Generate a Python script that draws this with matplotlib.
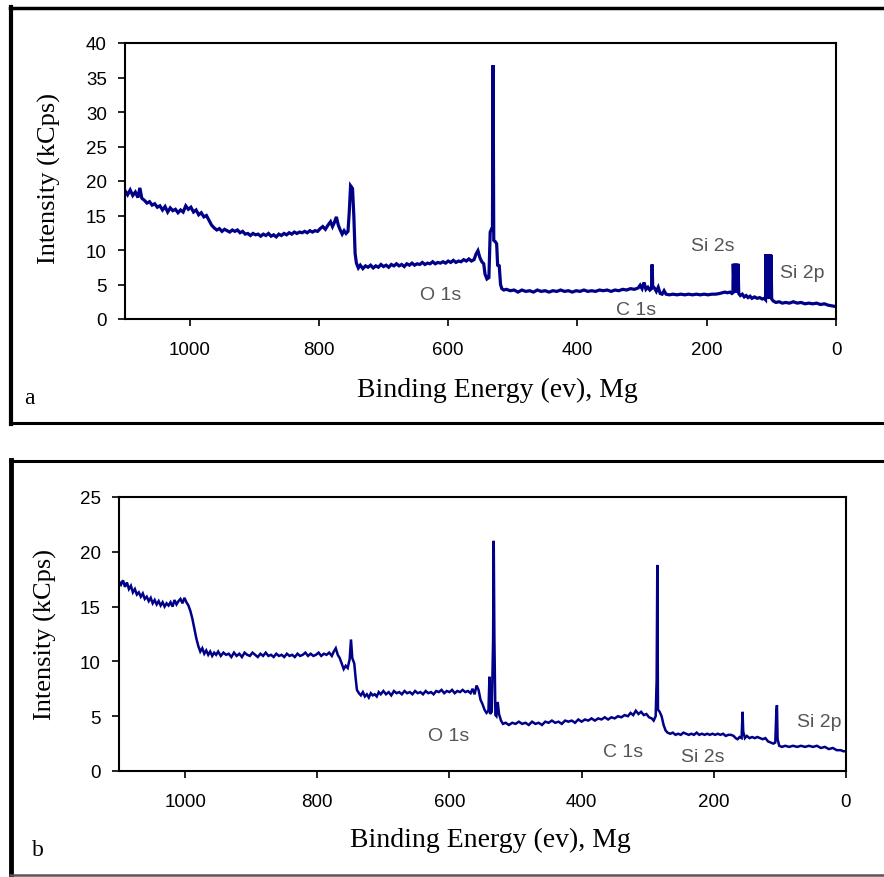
import matplotlib
matplotlib.use("Agg")
import matplotlib.pyplot as plt
from matplotlib.lines import Line2D

# ---- panel a: binding energy (eV) and intensity (kCps)
be_a = [1100, 1096, 1092, 1088, 1084, 1080, 1077, 1074, 1070, 1066, 1062, 1058, 1054, 1050,
        1046, 1042, 1038, 1034, 1030, 1026, 1022, 1018, 1014, 1010, 1006, 1002, 998, 994,
        990, 986, 982, 978, 974, 970, 966, 962, 958, 954, 950, 946, 942, 938, 934, 930,
        926, 922, 918, 914, 910, 906, 902, 898, 894, 890, 886, 882, 878, 874, 870, 866,
        862, 858, 854, 850, 846, 842, 838, 834, 830, 826, 822, 818, 814, 810, 806, 802,
        798, 794, 790, 786, 782, 779, 776, 773, 770, 767, 764, 761, 758, 755, 753, 751,
        748, 746, 744, 742, 739, 736, 732, 728, 724, 720, 716, 712, 708, 704, 700, 696,
        692, 688, 684, 680, 676, 672, 668, 664, 660, 656, 652, 648, 644, 640, 636, 632,
        628, 624, 620, 616, 612, 608, 604, 600, 596, 592, 588, 584, 580, 576, 572, 568,
        564, 560, 557, 554, 551, 548, 545, 543, 540, 537, 535, 533, 531.5, 530.5, 529.5,
        527, 525, 523.5, 521, 519, 517, 514, 510, 504, 498, 492, 486, 480, 474, 468, 462,
        456, 450, 444, 438, 432, 426, 420, 414, 408, 402, 396, 390, 384, 378, 372, 366,
        360, 354, 348, 342, 336, 330, 324, 318, 312, 306, 303, 300, 297, 294, 291, 288,
        285.5, 284.5, 283.5, 281, 278, 275, 272, 269, 266, 263, 258, 252, 246, 240, 234,
        228, 222, 216, 210, 204, 198, 192, 186, 180, 176, 172, 168, 164, 161, 159.5, 159,
        157.5, 156.5, 155, 154, 152.5, 151.5, 150.5, 148, 145, 142, 139, 136, 133, 130,
        126, 122, 118, 114, 111, 109, 108.5, 107.5, 106.5, 105.5, 104.5, 103.5, 102.5,
        101.5, 100.5, 99.5, 97, 93, 88, 83, 78, 72, 66, 60, 54, 48, 42, 36, 30, 24, 18,
        12, 6, 0]
int_a = [18.6, 18.0, 18.7, 17.9, 18.4, 17.6, 19.0, 17.5, 17.2, 16.8, 17.0, 16.5, 16.7, 16.2,
         16.4, 15.8, 16.3, 15.5, 16.1, 15.7, 15.9, 15.4, 15.8, 15.5, 16.4, 15.9, 16.2, 15.5,
         15.8, 15.1, 15.4, 14.8, 15.0, 14.3, 13.6, 13.2, 12.9, 13.1, 12.7, 13.0, 12.8, 12.6,
         12.9, 12.7, 12.9, 12.5, 12.7, 12.3, 12.4, 12.1, 12.4, 12.2, 12.3, 12.0, 12.3, 12.1,
         12.4, 12.0, 12.2, 11.9, 12.3, 12.1, 12.4, 12.2, 12.5, 12.3, 12.6, 12.4, 12.6, 12.5,
         12.7, 12.5, 12.8, 12.6, 12.8, 12.7, 13.1, 13.4, 13.0, 13.6, 14.1, 13.4, 14.0, 14.8,
         13.6, 12.9, 12.3, 12.8, 12.4, 12.7, 15.6, 19.3, 18.9, 15.0, 9.5, 8.1, 7.4, 7.8,
         7.3, 7.7, 7.5, 7.8, 7.4, 7.7, 7.5, 7.9, 7.6, 7.8, 7.5, 7.9, 7.7, 8.0, 7.7, 7.9,
         7.6, 8.0, 7.8, 8.1, 7.8, 8.0, 7.9, 8.2, 7.9, 8.1, 8.0, 8.3, 8.0, 8.2, 8.1, 8.3,
         8.1, 8.4, 8.2, 8.5, 8.2, 8.4, 8.3, 8.6, 8.4, 8.7, 8.4, 8.6, 9.4, 9.9, 8.9, 8.3,
         8.0, 6.5, 5.8, 6.0, 12.6, 13.0, 12.8, 36.8, 11.4, 11.2, 10.9, 7.8, 7.7, 5.0, 4.4,
         4.2, 4.3, 4.1, 4.2, 3.9, 4.2, 4.0, 4.1, 3.9, 4.2, 4.0, 4.1, 3.9, 4.1, 4.0, 4.2,
         4.0, 4.1, 3.9, 4.1, 4.0, 4.2, 4.0, 4.1, 4.0, 4.2, 4.1, 4.2, 4.0, 4.2, 4.1, 4.3,
         4.2, 4.4, 4.3, 4.5, 4.9, 4.4, 5.3, 4.3, 4.6, 4.2, 4.4, 7.9, 4.6, 4.5, 4.0, 4.6,
         3.7, 3.6, 4.1, 3.6, 3.5, 3.6, 3.5, 3.6, 3.5, 3.6, 3.5, 3.6, 3.5, 3.6, 3.5, 3.6,
         3.6, 3.7, 3.8, 3.9, 3.8, 3.9, 3.7, 3.8, 8.0, 3.9, 8.0, 3.8, 8.0, 3.8, 8.0, 3.7,
         3.4, 3.6, 3.2, 3.4, 3.1, 3.3, 3.0, 3.2, 3.0, 3.1, 2.9, 3.0, 2.8, 9.4, 3.0, 9.4,
         3.0, 9.4, 3.0, 9.4, 2.9, 9.3, 2.9, 2.6, 2.4, 2.5, 2.3, 2.4, 2.3, 2.5, 2.3, 2.4,
         2.2, 2.3, 2.2, 2.3, 2.1, 2.2, 2.0, 1.9, 1.8]

# ---- panel b
be_b = [1100, 1097, 1094, 1091, 1088, 1085, 1082, 1079, 1076, 1073, 1070, 1067, 1064, 1061,
        1058, 1055, 1052, 1049, 1046, 1043, 1040, 1037, 1034, 1031, 1028, 1025, 1022, 1019,
        1016, 1013, 1010, 1007, 1004, 1001, 998, 995, 992, 989, 986, 983, 980, 977, 974,
        971, 968, 965, 962, 959, 956, 953, 950, 946, 942, 938, 934, 930, 926, 922, 918,
        914, 910, 906, 902, 898, 894, 890, 886, 882, 878, 874, 870, 866, 862, 858, 854,
        850, 846, 842, 838, 834, 830, 826, 822, 818, 814, 810, 806, 802, 798, 794, 790,
        786, 782, 778, 775, 772, 769, 766, 763, 760, 757, 754, 751, 749, 747, 744, 742,
        740, 737, 734, 731, 728, 725, 722, 719, 716, 713, 710, 707, 704, 700, 696, 692,
        688, 684, 680, 676, 672, 668, 664, 660, 656, 652, 648, 644, 640, 636, 632, 628,
        624, 620, 616, 612, 608, 604, 600, 596, 592, 588, 584, 580, 576, 572, 568, 565,
        562, 559, 556, 553, 550, 547, 544, 541, 539.5, 538.5, 536, 534, 533, 532, 530.5,
        529, 527, 525, 522, 519, 515, 510, 505, 500, 495, 490, 485, 480, 475, 470, 465,
        460, 455, 450, 445, 440, 435, 430, 425, 420, 415, 410, 405, 400, 395, 390, 385,
        380, 375, 370, 365, 360, 355, 350, 345, 340, 335, 330, 326, 322, 318, 314, 310,
        306, 302, 298, 294, 291, 288, 286.5, 285.5, 284.5, 282, 279, 276, 273, 270, 266,
        262, 258, 254, 250, 246, 242, 238, 234, 230, 226, 222, 218, 214, 210, 206, 202,
        198, 194, 190, 186, 182, 178, 174, 170, 167, 164, 161, 158, 156.5, 155.5, 153,
        150, 146, 142, 138, 134, 130, 126, 122, 118, 114, 110, 107, 105.5, 104.5, 103.5,
        101, 97, 92, 86, 80, 74, 68, 62, 56, 50, 44, 38, 32, 26, 20, 14, 8, 4, 0]
int_b = [17.3, 17.0, 17.4, 16.8, 17.2, 16.6, 16.9, 16.3, 16.6, 16.1, 16.3, 15.9, 16.2, 15.7,
         15.9, 15.5, 15.8, 15.3, 15.6, 15.2, 15.5, 15.1, 15.4, 15.0, 15.3, 15.1, 15.4, 15.0,
         15.6, 15.2, 15.5, 15.7, 15.3, 15.8, 15.4, 15.1, 14.6, 13.9, 13.0, 12.1, 11.4, 10.9,
         11.2, 10.7, 11.0, 10.6, 10.9, 10.5, 10.8, 10.6, 10.9, 10.5, 10.8, 10.6, 10.7, 10.4,
         10.8, 10.5, 10.7, 10.4, 10.8, 10.6, 10.5, 10.8, 10.6, 10.4, 10.7, 10.5, 10.8, 10.5,
         10.6, 10.4, 10.7, 10.5, 10.6, 10.4, 10.7, 10.5, 10.6, 10.4, 10.7, 10.5, 10.6, 10.8,
         10.5, 10.7, 10.5, 10.6, 10.8, 10.5, 10.7, 10.6, 10.8, 10.5, 10.9, 11.2, 10.6, 10.3,
         9.8, 9.3, 9.6, 9.4, 10.2, 12.0, 10.3, 9.8, 8.5, 7.4, 7.1, 6.9, 7.2, 6.8, 7.0, 6.7,
         7.1, 6.9, 7.0, 6.8, 7.2, 7.0, 7.3, 7.0, 7.2, 6.9, 7.3, 7.1, 7.2, 7.0, 7.3, 7.1,
         7.2, 7.0, 7.3, 7.1, 7.2, 7.0, 7.3, 7.1, 7.2, 7.0, 7.3, 7.2, 7.4, 7.1, 7.3, 7.2,
         7.4, 7.1, 7.3, 7.2, 7.4, 7.2, 7.3, 7.1, 7.5, 7.0, 7.8, 7.4, 6.5, 6.1, 5.6, 5.3,
         5.5, 8.6, 5.2, 5.4, 11.8, 21.0, 12.0, 5.1, 5.0, 6.3, 5.2, 4.6, 4.3, 4.4, 4.2, 4.4,
         4.3, 4.5, 4.3, 4.4, 4.2, 4.5, 4.3, 4.4, 4.2, 4.5, 4.4, 4.6, 4.4, 4.5, 4.3, 4.6,
         4.5, 4.6, 4.4, 4.7, 4.5, 4.7, 4.6, 4.8, 4.6, 4.8, 4.7, 4.9, 4.7, 4.9, 4.8, 5.0,
         4.9, 5.1, 5.0, 5.3, 5.1, 5.5, 5.2, 5.4, 5.1, 5.2, 4.9, 4.8, 4.6, 5.0, 8.3, 18.8,
         5.6, 5.4, 5.0, 4.2, 3.7, 3.5, 3.4, 3.5, 3.3, 3.4, 3.3, 3.5, 3.4, 3.3, 3.4, 3.3,
         3.5, 3.3, 3.4, 3.3, 3.4, 3.3, 3.4, 3.3, 3.4, 3.3, 3.4, 3.2, 3.3, 3.3, 3.2, 3.0,
         2.9, 3.1, 3.0, 5.4, 3.6, 3.0, 3.2, 3.0, 3.1, 3.0, 3.1, 3.0, 2.9, 3.0, 2.7, 2.6,
         2.5, 2.6, 5.3, 6.0, 2.9, 2.3, 2.2, 2.3, 2.2, 2.3, 2.2, 2.3, 2.2, 2.3, 2.2, 2.3,
         2.1, 2.2, 2.0, 2.1, 1.9, 1.9, 1.8, 1.8]

xticks = [1000, 800, 600, 400, 200, 0]
yticks_a = [0, 5, 10, 15, 20, 25, 30, 35, 40]
yticks_b = [0, 5, 10, 15, 20, 25]

# peak labels: (text, energy, intensity)
labels_a = [("O 1s", 612, 3.5), ("C 1s", 310, 1.4), ("Si 2s", 190, 10.7), ("Si 2p", 52, 6.8)]
labels_b = [("O 1s", 601, 3.2), ("C 1s", 337, 1.8), ("Si 2s", 217, 1.3), ("Si 2p", 41, 4.5)]

W, H = 884, 878
fig = plt.figure(figsize=(W / 100, H / 100), dpi=100)

serif = "Liberation Serif"
sans = "Liberation Sans"
navy = "#000088"


def frac(px, py):
    return px / W, 1 - py / H


def panel(rect, be, inten, yticks, labels, lw):
    ax = fig.add_axes(rect)
    ax.plot(be, inten, color=navy, lw=lw, solid_joinstyle="miter")
    ax.set_xlim(1100, 0)
    ax.set_ylim(0, yticks[-1])
    ax.set_xticks(xticks)
    ax.set_yticks(yticks)
    ax.tick_params(direction="out", length=5, width=1.2, labelsize=13.5, pad=8)
    ax.tick_params(axis="x", pad=11)
    for t in ax.get_xticklabels() + ax.get_yticklabels():
        t.set_fontfamily(sans)
    for s in ax.spines.values():
        s.set_linewidth(1.5)
    for txt, x, y in labels:
        ax.text(x, y, txt, ha="center", va="center", fontsize=14,
                family=sans, color="#555555")
    return ax


ax_a = panel([125 / W, 1 - 320 / H, 711 / W, 276 / H], be_a, int_a, yticks_a, labels_a, 2.3)
ax_b = panel([119 / W, 1 - 772 / H, 727 / W, 274 / H], be_b, int_b, yticks_b, labels_b, 1.8)

# axis titles
fig.text(*frac(497, 390), "Binding Energy (ev), Mg", fontsize=20, family=serif,
         ha="center", va="center")
fig.text(*frac(49, 178), "Intensity (kCps)", fontsize=19, family=serif,
         ha="center", va="center", rotation=90)
fig.text(*frac(490, 840), "Binding Energy (ev), Mg", fontsize=20, family=serif,
         ha="center", va="center")
fig.text(*frac(45, 635), "Intensity (kCps)", fontsize=19, family=serif,
         ha="center", va="center", rotation=90)
fig.text(*frac(29, 399), "a", fontsize=17, family=serif, ha="center", va="center")
fig.text(*frac(38, 851), "b", fontsize=17, family=serif, ha="center", va="center")

# frames round the two panels
def hline(py, x0, x1, lw, c="black"):
    (a, y), (b, _) = frac(x0, py), frac(x1, py)
    fig.add_artist(Line2D([a, b], [y, y], lw=lw, color=c, transform=fig.transFigure))


def vline(px, y0, y1, lw, c="black"):
    (x, a), (_, b) = frac(px, y0), frac(px, y1)
    fig.add_artist(Line2D([x, x], [a, b], lw=lw, color=c, transform=fig.transFigure))


hline(9, 10, 884, 2.5)
vline(11, 8, 425, 3)
hline(424, 10, 884, 2.2)
hline(462, 10, 884, 2.2)
vline(11, 461, 878, 3.5)
hline(876, 10, 884, 1.8, "#555555")

fig.savefig("out.png", dpi=100)
